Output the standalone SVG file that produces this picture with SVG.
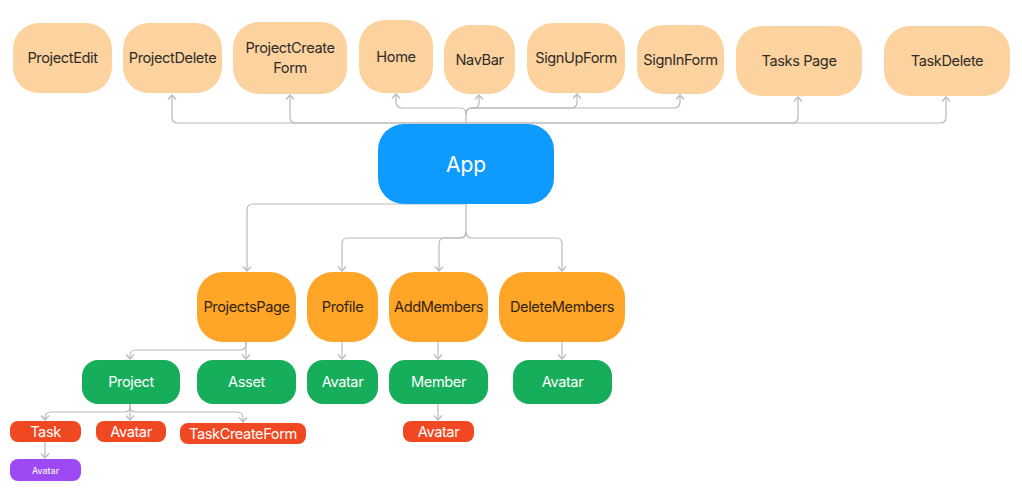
<svg xmlns="http://www.w3.org/2000/svg" width="1022" height="489" viewBox="0 0 1022 489">
<defs>
<marker id="arr" markerUnits="userSpaceOnUse" markerWidth="12" markerHeight="12" refX="0" refY="0" viewBox="-6 -6 12 12" orient="auto">
<path d="M-4.5,-4 L0,0 L-4.5,4" fill="none" stroke="#b9b9b9" stroke-width="1.2"/>
</marker>
<style>
text{font-family:Inter,"Noto Sans","Liberation Sans",sans-serif;text-anchor:middle;dominant-baseline:central;font-weight:400;letter-spacing:-0.4px}
.top rect{fill:#fcd29e}
.top text{fill:#2f2b28;font-size:14.6px}
.mid rect{fill:#ffa629}
.mid text{fill:#33240e;font-size:14.6px}
.grn rect{fill:#16ad5b}
.grn text{fill:#fff;font-size:14.6px}
.red rect{fill:#f04822}
.red text{fill:#fff;font-size:14.6px}
.pur rect{fill:#9d4af5}
.pur text{fill:#fff;font-size:9px;letter-spacing:0}
#connectors path{fill:none;stroke:#b9b9b9;stroke-width:1.2;marker-end:url(#arr)}
</style>
</defs>
<rect width="1022" height="489" fill="#fff"/>
<g id="connectors">
<path d="M466,123 H178 Q172,123 172,117 V95"/>
<path d="M466,123 H296 Q290,123 290,117 V95"/>
<path d="M466,123 H792 Q798,123 798,117 V97"/>
<path d="M466,123 H940 Q946,123 946,117 V97"/>
<path d="M466,123 V114 Q466,108 460,108 H402 Q396,108 396,102 V94"/>
<path d="M466,114 Q466,108 472,108 H474 Q479,108 479,103 V95"/>
<path d="M466,114 Q466,108 472,108 H571 Q577,108 577,102 V94"/>
<path d="M466,114 Q466,108 472,108 H674 Q680,108 680,102 V95"/>
<path d="M466,204 H253 Q247,204 247,210 V271"/>
<path d="M466,204 V232 Q466,238 460,238 H348 Q342,238 342,244 V271"/>
<path d="M466,232 Q466,238 460,238 H445 Q439,238 439,244 V271"/>
<path d="M466,232 Q466,238 472,238 H556 Q562,238 562,244 V271"/>
<path d="M246,342 V359"/>
<path d="M246,342 V344 Q246,350 240,350 H136 Q130,350 130,356 V359"/>
<path d="M342,342 V359"/>
<path d="M438,342 V359"/>
<path d="M562,342 V359"/>
<path d="M130,404 V420"/>
<path d="M130,404 V407 Q130,412 124,412 H51 Q45,412 45,418 V420"/>
<path d="M130,407 Q130,412 136,412 H237 Q243,412 243,418 V422"/>
<path d="M438,404 V420"/>
<path d="M45,442 V458"/>
</g>
<g id="projectedit" class="top"><rect x="13" y="23" width="99" height="70" rx="26"/><text x="62.5" y="58">ProjectEdit</text></g>
<g id="projectdelete" class="top"><rect x="123" y="23" width="99" height="70" rx="26"/><text x="172.5" y="58">ProjectDelete</text></g>
<g id="projectcreateform" class="top"><rect x="233" y="22" width="114" height="72" rx="26"/><text x="290" y="48">ProjectCreate</text><text x="290" y="68">Form</text></g>
<g id="home" class="top"><rect x="359" y="20" width="74" height="73" rx="26"/><text x="396" y="57">Home</text></g>
<g id="navbar" class="top"><rect x="444" y="25" width="71" height="69" rx="26"/><text x="479.5" y="60">NavBar</text></g>
<g id="signupform" class="top"><rect x="527" y="23" width="98" height="70" rx="26"/><text x="576" y="58">SignUpForm</text></g>
<g id="signinform" class="top"><rect x="637" y="25" width="87" height="69" rx="26"/><text x="680.5" y="60">SignInForm</text></g>
<g id="taskspage" class="top"><rect x="736" y="26" width="126" height="70" rx="26"/><text x="799" y="61">Tasks Page</text></g>
<g id="taskdelete" class="top"><rect x="884" y="26" width="126" height="70" rx="26"/><text x="947" y="61">TaskDelete</text></g>
<g id="app"><rect x="378" y="124" width="176" height="80" rx="26" fill="#0e9aff"/><text x="466" y="164" fill="#fff" style="font-size:21px;letter-spacing:0">App</text></g>
<g id="projectspage" class="mid"><rect x="197" y="272" width="99" height="70" rx="26"/><text x="246.5" y="307">ProjectsPage</text></g>
<g id="profile" class="mid"><rect x="307" y="272" width="71" height="70" rx="26"/><text x="342.5" y="307">Profile</text></g>
<g id="addmembers" class="mid"><rect x="389" y="272" width="99" height="70" rx="26"/><text x="438.5" y="307">AddMembers</text></g>
<g id="deletemembers" class="mid"><rect x="499" y="272" width="126" height="70" rx="26"/><text x="562" y="307">DeleteMembers</text></g>
<g id="project" class="grn"><rect x="82" y="360" width="98" height="44" rx="16"/><text x="131" y="382">Project</text></g>
<g id="asset" class="grn"><rect x="197" y="360" width="99" height="44" rx="16"/><text x="246.5" y="382">Asset</text></g>
<g id="avatar-profile" class="grn"><rect x="307" y="360" width="71" height="44" rx="16"/><text x="342.5" y="382">Avatar</text></g>
<g id="member" class="grn"><rect x="389" y="360" width="99" height="44" rx="16"/><text x="438.5" y="382">Member</text></g>
<g id="avatar-delete" class="grn"><rect x="513" y="360" width="99" height="44" rx="16"/><text x="562.5" y="382">Avatar</text></g>
<g id="task" class="red"><rect x="10" y="421" width="71" height="21" rx="8"/><text x="45.5" y="431.5">Task</text></g>
<g id="avatar-project" class="red"><rect x="96" y="421" width="70" height="21" rx="8"/><text x="131" y="431.5">Avatar</text></g>
<g id="taskcreateform" class="red"><rect x="180" y="423" width="126" height="21" rx="8"/><text x="243" y="433.5">TaskCreateForm</text></g>
<g id="avatar-member" class="red"><rect x="403" y="421" width="71" height="21" rx="8"/><text x="438.5" y="431.5">Avatar</text></g>
<g id="avatar-task" class="pur"><rect x="10" y="459" width="71" height="22" rx="8"/><text x="45.5" y="470">Avatar</text></g>
</svg>
